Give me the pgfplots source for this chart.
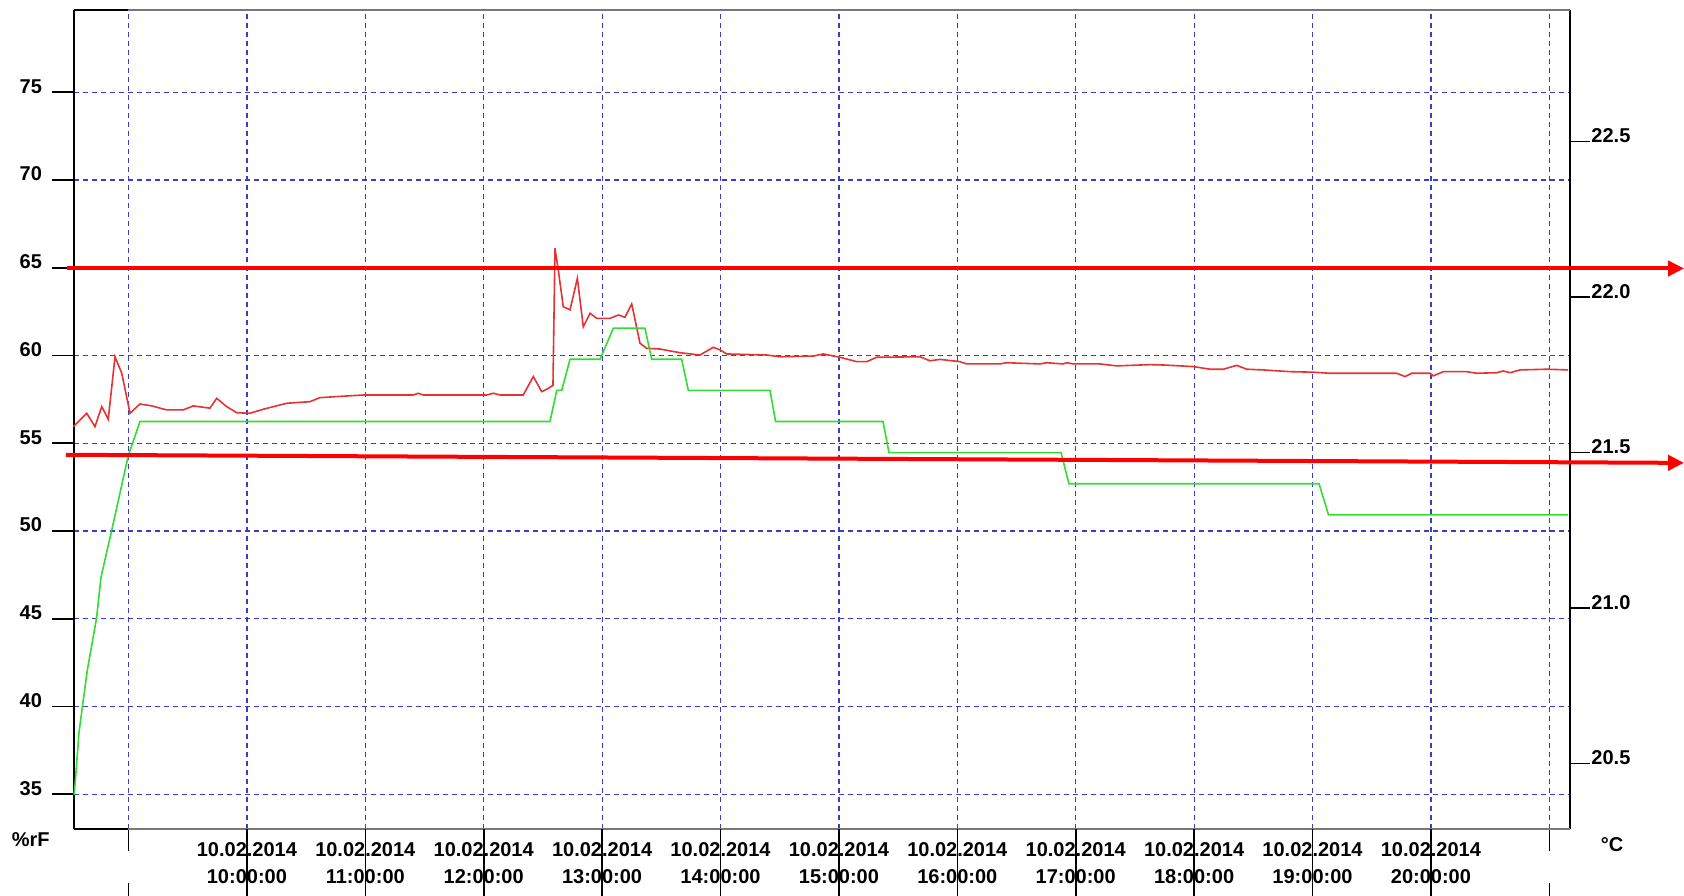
\documentclass[border=0pt]{standalone}
\usepackage{fontspec}
\setmainfont{Liberation Sans}
\usepackage{pgfplots}
\pgfplotsset{compat=1.18}
\usetikzlibrary{arrows.meta}
\definecolor{gridblue}{RGB}{60,60,200}
\definecolor{redline}{RGB}{230,50,50}
\definecolor{greenline}{RGB}{50,220,50}
\definecolor{framegray}{RGB}{120,120,120}
\newcommand{\lab}{\bfseries\fontsize{10}{13.5}\selectfont}
\begin{document}
\begin{tikzpicture}
\begin{axis}[
 name=main,
 width=748pt, height=409.5pt, scale only axis,
 xmin=8.5397, xmax=21.1748, ymin=33.02, ymax=79.69,
 clip=false,
 axis line style={draw=none},
 xtick={9,...,21},
 xticklabels={,{10.02.2014\\10:00:00},{10.02.2014\\11:00:00},{10.02.2014\\12:00:00},{10.02.2014\\13:00:00},{10.02.2014\\14:00:00},{10.02.2014\\15:00:00},{10.02.2014\\16:00:00},{10.02.2014\\17:00:00},{10.02.2014\\18:00:00},{10.02.2014\\19:00:00},{10.02.2014\\20:00:00},},
 xtick pos=bottom, ytick pos=left,
 tick align=outside, major tick length=11pt,
 tick style={black, line width=0.8pt},
 ytick={35,40,...,75}, yticklabels={35,40,45,50,55,60,65,70,75},
 xmajorgrids, ymajorgrids,
 major grid style={gridblue, line width=0.6pt, dash pattern=on 2.5pt off 2pt},
 ticklabel style={font=\lab},
 xticklabel style={align=center, anchor=north, yshift=7.7pt},
 yticklabel style={anchor=east, xshift=-1.5pt, yshift=3pt},
 ylabel={\%rF},
 every axis y label/.style={at={(rel axis cs:0,0)}, anchor=center, xshift=-21.6pt, yshift=-5.5pt, font=\lab},
]
\draw[black, line width=0.6pt] (rel axis cs:0,0) -- (rel axis cs:0,1);
\draw[black, line width=0.9pt] (rel axis cs:1,0) -- (rel axis cs:1,1);
\draw[black, line width=0.6pt] (rel axis cs:0,0) -- (axis cs:9,33.02);
\draw[black, line width=0.6pt] (rel axis cs:0,1) -- (axis cs:9,79.69);
\draw[framegray, line width=1.2pt] (axis cs:9,33.02) -- (rel axis cs:1,0);
\draw[framegray, line width=1.2pt] (axis cs:9,79.69) -- (rel axis cs:1,1);
\pgfplotsinvokeforeach{10,...,20}{\draw[black, line width=0.8pt] (axis cs:#1,33.02) -- ++(0pt,-34pt);}
\draw[black, line width=0.8pt] (axis cs:9,33.02) ++(0pt,-27pt) -- ++(0pt,-8pt);
\draw[black, line width=0.8pt] (axis cs:21,33.02) ++(0pt,-27pt) -- ++(0pt,-8pt);
\addplot[redline, line width=0.8pt] coordinates {
(8.534,55.95) (8.647,56.71) (8.717,55.95) (8.774,57.09) (8.829,56.37) (8.886,59.93) (8.943,58.99) (9.013,56.71) (9.097,57.24) (9.196,57.13) (9.323,56.90) (9.463,56.90) (9.547,57.13) (9.688,57.00) (9.745,57.56) (9.829,57.09) (9.914,56.74) (10.026,56.71) (10.139,56.94) (10.336,57.28) (10.533,57.37) (10.617,57.60) (10.758,57.66) (10.983,57.75) (11.405,57.75) (11.448,57.85) (11.490,57.75) (12.025,57.75) (12.081,57.85) (12.138,57.75) (12.334,57.75) (12.419,58.80) (12.490,57.94) (12.546,58.13) (12.585,58.3) (12.602,66.11) (12.630,64.87) (12.672,62.78) (12.729,62.60) (12.791,64.40) (12.841,61.64) (12.898,62.41) (12.954,62.12) (13.067,62.12) (13.137,62.31) (13.193,62.18) (13.250,62.94) (13.320,60.70) (13.377,60.41) (13.489,60.37) (13.658,60.16) (13.827,60.03) (13.939,60.47) (13.996,60.32) (14.052,60.09) (14.390,60.03) (14.503,59.93) (14.784,59.97) (14.868,60.09) (15.009,59.90) (15.150,59.65) (15.235,59.65) (15.319,59.90) (15.685,59.93) (15.769,59.70) (15.854,59.78) (16.022,59.65) (16.079,59.52) (16.360,59.52) (16.417,59.59) (16.698,59.52) (16.755,59.59) (16.895,59.52) (16.924,59.59) (16.980,59.52) (17.205,59.52) (17.346,59.41) (17.627,59.48) (17.740,59.46) (17.993,59.37) (18.134,59.22) (18.247,59.22) (18.360,59.44) (18.444,59.22) (18.584,59.18) (18.810,59.08) (19.007,59.05) (19.148,58.99) (19.711,58.99) (19.782,58.80) (19.838,58.99) (19.992,58.99) (20.020,58.84) (20.105,59.08) (20.302,59.08) (20.386,58.99) (20.555,59.02) (20.611,59.12) (20.668,59.02) (20.753,59.18) (20.978,59.22) (21.158,59.18)
};
\end{axis}
\begin{axis}[
 width=748pt, height=409.5pt, scale only axis,
 xmin=8.5397, xmax=21.1748, ymin=20.290, ymax=22.923,
 clip=false,
 axis line style={draw=none},
 xtick=\empty,
 ytick={20.5,21,21.5,22,22.5}, yticklabels={20.5,21.0,21.5,22.0,22.5},
 ytick pos=right, yticklabel pos=right,
 tick align=outside, major tick length=10pt,
 tick style={black, line width=0.8pt},
 ticklabel style={font=\lab},
 yticklabel style={anchor=west, xshift=-2.8pt, yshift=2.9pt},
 ylabel={°C},
 every axis y label/.style={at={(rel axis cs:1,0)}, anchor=center, xshift=21pt, yshift=-8pt, font=\lab},
]
\addplot[greenline, line width=0.8pt] coordinates {
(8.540,20.40) (8.548,20.43) (8.582,20.60) (8.613,20.69) (8.652,20.80) (8.731,20.97) (8.768,21.10) (8.858,21.25) (8.998,21.49) (9.097,21.6) (12.560,21.6) (12.617,21.7) (12.659,21.7) (12.729,21.8) (12.982,21.8) (13.095,21.9) (13.362,21.9) (13.419,21.8) (13.672,21.8) (13.728,21.7) (14.418,21.7) (14.465,21.6) (15.372,21.6) (15.423,21.5) (16.876,21.5) (16.943,21.4) (19.055,21.4) (19.135,21.3) (21.158,21.3)
};
\addplot[red, line width=2pt, -{Triangle[length=8pt,width=7.5pt]}] coordinates {(8.477,22.092) (22.138,22.092)};
\addplot[red, line width=2pt, -{Triangle[length=8pt,width=7.5pt]}] coordinates {(8.472,21.493) (22.138,21.467)};
\end{axis}
\pgfresetboundingbox
\path[use as bounding box] ([shift={(-37pt,-33.5pt)}]main.south west) rectangle ([shift={(57pt,5pt)}]main.north east);
\end{tikzpicture}
\end{document}
